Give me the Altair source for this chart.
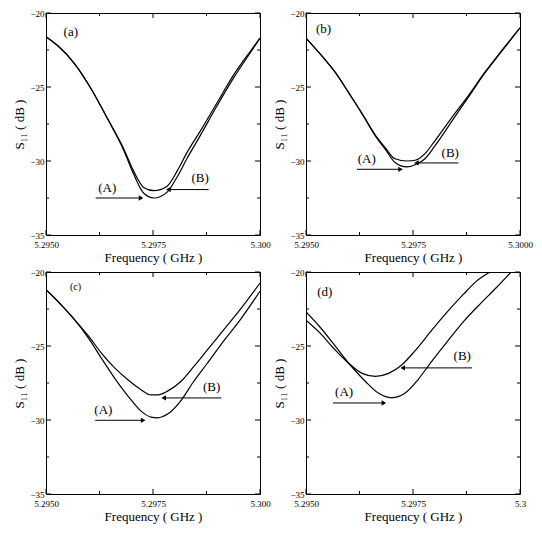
import altair as alt
import pandas as pd

# ---------------- data ----------------
a_freq = [5.2950, 5.29527, 5.29566, 5.29605, 5.29643, 5.29682, 5.29705, 5.29729,
          5.29752, 5.29783, 5.29806, 5.29830, 5.29860, 5.29899, 5.29938, 5.29977, 5.3000]
a_A = [-21.6, -22.2, -23.4, -25.1, -27.1, -29.3, -30.9, -32.2,
       -32.5, -32.1, -31.1, -29.8, -28.3, -26.3, -24.4, -22.7, -21.7]
a_B = [-21.6, -22.2, -23.4, -25.1, -27.1, -29.2, -30.7, -31.8,
       -32.0, -31.7, -30.7, -29.4, -28.0, -26.1, -24.2, -22.6, -21.7]

b_freq = [5.2950, 5.29537, 5.29568, 5.29600, 5.29631, 5.29662, 5.29685, 5.29708,
          5.29736, 5.29755, 5.29778, 5.29802, 5.29841, 5.29879, 5.29918, 5.29957, 5.3000]
b_A = [-21.7, -22.9, -24.0, -25.4, -26.8, -28.3, -29.2, -30.1,
       -30.4, -30.25, -29.85, -28.95, -27.3, -25.7, -24.05, -22.6, -21.0]
b_B = [-21.7, -22.9, -24.0, -25.4, -26.8, -28.25, -29.1, -29.85,
       -30.0, -29.95, -29.5, -28.6, -27.05, -25.6, -24.0, -22.55, -21.0]

c_freq = [5.2950, 5.29538, 5.29569, 5.29600, 5.29630, 5.29661, 5.29692, 5.29722,
          5.29745, 5.29761, 5.29784, 5.29815, 5.29845, 5.29876, 5.29914, 5.29952, 5.3000]
c_A = [-21.2, -22.3, -23.3, -24.5, -25.85, -27.2, -28.4, -29.4,
       -29.8, -29.85, -29.6, -28.7, -27.4, -26.2, -24.7, -23.3, -21.3]
c_B = [-21.2, -22.3, -23.3, -24.35, -25.5, -26.5, -27.3, -27.95,
       -28.3, -28.3, -28.05, -27.4, -26.4, -25.3, -23.95, -22.6, -20.75]

d_freq_A = [5.2950, 5.29532, 5.29563, 5.29601, 5.29639, 5.29670, 5.29700, 5.29731,
            5.29761, 5.29792, 5.29830, 5.29868, 5.29907, 5.29945, 5.29979]
d_A = [-22.7, -23.7, -24.8, -26.2, -27.4, -28.2, -28.5, -28.2,
       -27.3, -26.1, -24.7, -23.35, -22.15, -21.05, -20.0]
d_freq_B = [5.2950, 5.29532, 5.29563, 5.29601, 5.29631, 5.29662, 5.29693, 5.29723,
            5.29754, 5.29792, 5.29830, 5.29868, 5.29899, 5.29930]
d_B = [-23.25, -24.1, -25.1, -26.2, -26.85, -27.05, -26.85, -26.3,
       -25.35, -24.0, -22.7, -21.5, -20.6, -20.0]

x_major = [5.2950, 5.2975, 5.3000]
x_minor = [5.29625, 5.29875]
y_major = [-35, -30, -25, -20]
y_minor = [-32.5, -27.5, -22.5]
x_last_labels = ["5.300", "5.3000", "5.300", "5.3"]
panel_letters = ["(a)", "(b)", "(c)", "(d)"]

# ---------------- layout / style ----------------
W, H = 214, 222
FONT = "Liberation Serif"
XS = alt.Scale(domain=[5.295, 5.300], nice=False, zero=False)
YS = alt.Scale(domain=[-35, -20], nice=False, zero=False)


def make_axes(idx):
    last = x_last_labels[idx]
    xax = alt.Axis(
        title="Frequency ( GHz )", values=x_major,
        labelExpr=f"datum.value > 5.2999 ? '{last}' : format(datum.value, '.4f')",
        ticks=False, domain=False, grid=False, labelPadding=5, titlePadding=2,
        labelFlush=False, labelFont=FONT, titleFont=FONT, labelFontSize=9,
        titleFontSize=13, titleFontWeight="normal", labelColor="black", titleColor="black")
    yax = alt.Axis(
        title="S₁₁ ( dB )", values=y_major, format="d",
        ticks=False, domain=False, grid=False, labelPadding=2, titlePadding=3,
        labelFlush=False, labelFont=FONT, titleFont=FONT, labelFontSize=9,
        titleFontSize=13, titleFontWeight="normal", labelColor="black", titleColor="black")
    return xax, yax


def tick_layer(vals, orient, length, xax, yax):
    base = alt.Chart(pd.DataFrame({"f": vals, "db": vals})).mark_rule(color="black", strokeWidth=1)
    if orient in ("bottom", "top"):
        y0 = H if orient == "bottom" else 0
        y1 = H - length if orient == "bottom" else length
        return base.encode(x=alt.X("f:Q", scale=XS, axis=xax),
                           y=alt.value(y0), y2=alt.value(y1))
    x0 = 0 if orient == "left" else W
    x1 = length if orient == "left" else W - length
    return base.encode(y=alt.Y("db:Q", scale=YS, axis=yax),
                       x=alt.value(x0), x2=alt.value(x1))


def panel(idx, fA, dA, fB, dB, ann):
    xax, yax = make_axes(idx)
    X = lambda: alt.X("f:Q", scale=XS, axis=xax)
    Y = lambda: alt.Y("db:Q", scale=YS, axis=yax)

    df = pd.DataFrame({
        "f": list(fA) + list(fB),
        "db": list(dA) + list(dB),
        "s": ["A"] * len(fA) + ["B"] * len(fB),
    })
    lines = alt.Chart(df).mark_line(clip=True, color="black", strokeWidth=1.2,
                                    interpolate="monotone").encode(
        x=X(), y=Y(), detail="s:N")
    layers = [lines,
              tick_layer(x_major, "bottom", 5, xax, yax), tick_layer(x_minor, "bottom", 3, xax, yax),
              tick_layer(x_major, "top", 5, xax, yax), tick_layer(x_minor, "top", 3, xax, yax),
              tick_layer(y_major, "left", 5, xax, yax), tick_layer(y_minor, "left", 3, xax, yax),
              tick_layer(y_major, "right", 5, xax, yax), tick_layer(y_minor, "right", 3, xax, yax)]

    # panel letter
    letter_df = pd.DataFrame({"f": [ann["letter"][0]], "db": [ann["letter"][1]],
                              "t": [panel_letters[idx]]})
    layers.append(alt.Chart(letter_df).mark_text(
        font=FONT, fontSize=ann.get("letter_size", 13), color="black").encode(
        x=X(), y=Y(), text="t:N"))

    # (A) / (B) labels
    lab_df = pd.DataFrame({"f": [ann["A_text"][0], ann["B_text"][0]],
                           "db": [ann["A_text"][1], ann["B_text"][1]],
                           "t": ["(A)", "(B)"]})
    layers.append(alt.Chart(lab_df).mark_text(font=FONT, fontSize=13, color="black").encode(
        x=X(), y=Y(), text="t:N"))

    # arrows
    arr_df = pd.DataFrame({"f": [ann["A_arrow"][0], ann["B_arrow"][0]],
                           "f2": [ann["A_arrow"][1], ann["B_arrow"][1]],
                           "db": [ann["A_arrow"][2], ann["B_arrow"][2]]})
    layers.append(alt.Chart(arr_df).mark_rule(color="black", strokeWidth=1).encode(
        x=X(), x2="f2:Q", y=Y()))
    headA = pd.DataFrame({"f": [ann["A_arrow"][1]], "db": [ann["A_arrow"][2]]})
    headB = pd.DataFrame({"f": [ann["B_arrow"][1]], "db": [ann["B_arrow"][2]]})
    layers.append(alt.Chart(headA).mark_point(shape="triangle-right", filled=True, size=28,
                                              color="black", opacity=1).encode(x=X(), y=Y()))
    layers.append(alt.Chart(headB).mark_point(shape="triangle-left", filled=True, size=28,
                                              color="black", opacity=1).encode(x=X(), y=Y()))

    return alt.layer(*layers).properties(width=W, height=H)


ann_a = {"letter": (5.29558, -21.3), "A_text": (5.29643, -31.8), "B_text": (5.29860, -31.15),
         "A_arrow": (5.29616, 5.29722, -32.5), "B_arrow": (5.29880, 5.29786, -31.93)}
ann_b = {"letter": (5.29541, -21.1), "A_text": (5.29642, -29.85), "B_text": (5.29837, -29.45),
         "A_arrow": (5.29619, 5.29721, -30.56), "B_arrow": (5.29856, 5.29758, -30.13)}
ann_c = {"letter": (5.29569, -21.0), "letter_size": 10,
         "A_text": (5.29634, -29.3), "B_text": (5.29887, -27.8),
         "A_arrow": (5.29615, 5.29727, -30.02), "B_arrow": (5.29910, 5.29775, -28.51)}
ann_d = {"letter": (5.29544, -21.35), "A_text": (5.29589, -28.1), "B_text": (5.29865, -25.7),
         "A_arrow": (5.29563, 5.29682, -28.85), "B_arrow": (5.29888, 5.29726, -26.48)}

pa = panel(0, a_freq, a_A, a_freq, a_B, ann_a)
pb = panel(1, b_freq, b_A, b_freq, b_B, ann_b)
pc = panel(2, c_freq, c_A, c_freq, c_B, ann_c)
pd_ = panel(3, d_freq_A, d_A, d_freq_B, d_B, ann_d)

top = alt.hconcat(pa, pb, spacing=2)
bottom = alt.hconcat(pc, pd_, spacing=2)

chart = alt.vconcat(top, bottom, spacing=2).properties(
    padding={"left": 5, "top": 0, "right": 0, "bottom": 0}
).configure_view(
    stroke="black", strokeWidth=1
).configure_axis(
    labelFont=FONT, titleFont=FONT, labelFontSize=9, titleFontSize=13,
    titleFontWeight="normal", labelColor="black", titleColor="black"
).configure_text(font=FONT)

chart.save("out.html", embed_options={"renderer": "svg", "actions": False})
